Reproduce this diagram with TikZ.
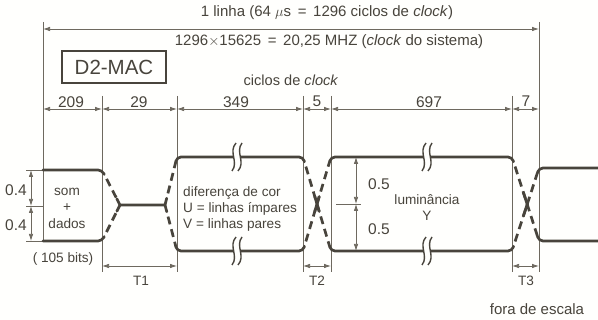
\documentclass[tikz,border=0pt]{standalone}
\usepackage{fontspec}
\setmainfont{Liberation Sans}
\usetikzlibrary{arrows.meta,calc}
\definecolor{ink}{RGB}{72,68,60}
\definecolor{thinc}{RGB}{110,105,95}
\definecolor{paper}{RGB}{255,255,253}
\begin{document}
\begin{tikzpicture}[x=1pt,y=-1pt,
  sig/.style={line width=2.7pt, draw=ink, line cap=round, line join=round},
  sigd/.style={line width=2.7pt, draw=ink, line cap=butt, dash pattern=on 8pt off 5pt, dash phase=8pt},
  thinl/.style={line width=0.75pt, draw=thinc},
  dimarr/.style={thinl, {Latex[length=7pt,width=4.5pt]}-{Latex[length=7pt,width=4.5pt]}},
  lbl/.style={font=\fontsize{13.6}{15}\selectfont, text=ink, inner sep=0pt},
  big/.style={font=\fontsize{15}{17}\selectfont, text=ink, inner sep=0pt},
  num/.style={font=\fontsize{15.5}{17}\selectfont, text=ink, inner sep=0pt},
  brk/.pic={
    \fill[paper] (-1,-14) .. controls (-9,-5) and (2,5) .. (-5,14) -- (1,14) .. controls (9,5) and (-2,-5) .. (5,-14) -- cycle;
    \draw[ink, line width=1.4pt] (-1,-14) .. controls (-9,-5) and (2,5) .. (-5,14);
    \draw[ink, line width=1.4pt] (5,-14) .. controls (-2,-5) and (9,5) .. (1,14);
  }
]
\fill[paper] (0,0) rectangle (598,320);
\useasboundingbox (0,0) rectangle (598,320);

% ---- coordinates of the signal
\coordinate (sA) at (43,170); \coordinate (sA2) at (102,170);
\coordinate (sB) at (43,241); \coordinate (sB2) at (102,241);
\coordinate (m1) at (120,205); \coordinate (m2) at (165,205);
\coordinate (cA1) at (177,157); \coordinate (cA2) at (303,157);
\coordinate (cB1) at (177,251); \coordinate (cB2) at (303,251);
\coordinate (lA1) at (331,157); \coordinate (lA2) at (512,157);
\coordinate (lB1) at (331,251); \coordinate (lB2) at (512,251);
\coordinate (rA1) at (539,168); \coordinate (rA2) at (598,168);
\coordinate (rB1) at (539,241); \coordinate (rB2) at (598,241);

% ---- thin extension lines
\coordinate (v0t) at (43,22);  \coordinate (v0b) at (43,241);
\coordinate (v1t) at (102,96); \coordinate (v1b) at (102,272);
\coordinate (v2t) at (177,96); \coordinate (v2b) at (177,272);
\coordinate (v3t) at (303,96); \coordinate (v3b) at (303,272);
\coordinate (v4t) at (331,96); \coordinate (v4b) at (331,272);
\coordinate (v5t) at (512,96); \coordinate (v5b) at (512,272);
\coordinate (v6t) at (539,22); \coordinate (v6b) at (539,272);
\foreach \i in {0,...,6} { \draw[thinl] (v\i t) -- (v\i b); }

% ---- top dimension
\coordinate (t0) at (43,29); \coordinate (t6) at (539,29);
\draw[dimarr] (t0) -- (t6);
\node[big] (title) at (327,13) {1 linha (64 $\mu$s \,=\, 1296 ciclos de \textit{clock})};
\node[big] (freq) at (329,42) {1296$\times$15625 \,=\, 20,25 MHZ (\textit{clock} do sistema)};
\node[draw=ink, line width=1.3pt, minimum width=104pt, minimum height=32pt, inner sep=0pt,
      font=\fontsize{20.5}{22}\selectfont, text=ink] (mac) at (114,67) {D2-MAC};
\node[font=\fontsize{14.6}{16}\selectfont, text=ink, inner sep=0pt] (ciclos) at (291,80) {ciclos de \textit{clock}};

% ---- cycle dimension row
\foreach \n/\x in {0/43,1/102,2/177,3/303,4/331,5/512,6/539} { \coordinate (d\n) at (\x,109); }
\draw[dimarr] (d0) -- (d1);
\draw[dimarr] (d1) -- (d2);
\draw[dimarr] (d2) -- (d3);
\draw[dimarr] (d3) -- (d4);
\draw[dimarr] (d4) -- (d5);
\draw[dimarr] (d5) -- (d6);
\node[num] (n209) at (71,102) {209};
\node[num] (n29) at (139,102) {29};
\node[num] (n349) at (236,102) {349};
\node[num] (n5) at (317,101) {5};
\node[num] (n697) at (429,102) {697};
\node[num] (n7) at (526,101) {7};

% ---- T dimensions
\coordinate (T1a) at (102,266); \coordinate (T1b) at (177,266);
\coordinate (T2a) at (303,266); \coordinate (T2b) at (331,266);
\coordinate (T3a) at (512,266); \coordinate (T3b) at (539,266);
\draw[dimarr] (T1a) -- (T1b);
\draw[dimarr] (T2a) -- (T2b);
\draw[dimarr] (T3a) -- (T3b);
\node[lbl] (lT1) at (141,281) {T1};
\node[lbl] (lT2) at (317,281) {T2};
\node[lbl] (lT3) at (526,281) {T3};
\node[lbl] (bits) at (63,259) {( 105 bits)};
\node[font=\fontsize{15}{17}\selectfont, text=ink, inner sep=0pt] (escala) at (537,309) {fora de escala};

% ---- amplitude dimensions
\coordinate (a0) at (31,170); \coordinate (a1) at (31,206); \coordinate (a2) at (31,241);
\coordinate (e0) at (26,170); \coordinate (e1) at (26,206); \coordinate (e2) at (26,241);
\coordinate (f1) at (43,206);
\draw[thinl] (e0) -- (sA);
\draw[thinl] (e1) -- (f1);
\draw[thinl] (e2) -- (sB);
\draw[dimarr] (a0) -- (a1);
\draw[dimarr] (a1) -- (a2);
\node[num] (q1) at (16,190) {0.4};
\node[num] (q2) at (16,225) {0.4};

\coordinate (b0) at (356,157); \coordinate (b1) at (356,204); \coordinate (b2) at (356,251);
\coordinate (g0) at (336,204); \coordinate (g1) at (361,204);
\draw[thinl] (g0) -- (g1);
\draw[dimarr] (b0) -- (b1);
\draw[dimarr] (b1) -- (b2);
\node[num] (p1) at (379,184) {0.5};
\node[num] (p2) at (379,229) {0.5};

% ---- signal: solid parts
\draw[sig, rounded corners=4pt] (sA) -- (sA2) -- ($(sA2)!5pt!(m1)$);
\draw[sig, rounded corners=4pt] (sB) -- (sB2) -- ($(sB2)!5pt!(m1)$);
\draw[sig] ($(m1)!7pt!(sA2)$) -- (m1) -- (m2) -- ($(m2)!7pt!(cA1)$);
\draw[sig] ($(m1)!7pt!(sB2)$) -- (m1);
\draw[sig] ($(m2)!7pt!(cB1)$) -- (m2);
\draw[sig, rounded corners=4pt] ($(cA1)!5pt!(m2)$) -- (cA1) -- (cA2) -- ($(cA2)!5pt!(lB1)$);
\draw[sig, rounded corners=4pt] ($(cB1)!5pt!(m2)$) -- (cB1) -- (cB2) -- ($(cB2)!5pt!(lA1)$);
\draw[sig, rounded corners=4pt] ($(lA1)!5pt!(cB2)$) -- (lA1) -- (lA2) -- ($(lA2)!5pt!(rB1)$);
\draw[sig, rounded corners=4pt] ($(lB1)!5pt!(cA2)$) -- (lB1) -- (lB2) -- ($(lB2)!5pt!(rA1)$);
\draw[sig, rounded corners=4pt] ($(rA1)!5pt!(lB2)$) -- (rA1) -- (rA2);
\draw[sig, rounded corners=4pt] ($(rB1)!5pt!(lA2)$) -- (rB1) -- (rB2);

% ---- signal: dashed transitions
\draw[sigd] ($(sA2)!5pt!(m1)$) -- ($(m1)!7pt!(sA2)$);
\draw[sigd] ($(sB2)!5pt!(m1)$) -- ($(m1)!7pt!(sB2)$);
\draw[sigd] ($(m2)!7pt!(cA1)$) -- ($(cA1)!5pt!(m2)$);
\draw[sigd] ($(m2)!7pt!(cB1)$) -- ($(cB1)!5pt!(m2)$);
\draw[sigd] ($(cA2)!5pt!(lB1)$) -- ($(lB1)!5pt!(cA2)$);
\draw[sigd] ($(cB2)!5pt!(lA1)$) -- ($(lA1)!5pt!(cB2)$);
\draw[sigd] ($(lA2)!5pt!(rB1)$) -- ($(rB1)!5pt!(lA2)$);
\draw[sigd] ($(lB2)!5pt!(rA1)$) -- ($(rA1)!5pt!(lB2)$);
% solid waists of the crossings
\draw[sig] ($(cA2)!0.42!(lB1)$) -- ($(cA2)!0.58!(lB1)$);
\draw[sig] ($(cB2)!0.42!(lA1)$) -- ($(cB2)!0.58!(lA1)$);
\draw[sig] ($(lA2)!0.42!(rB1)$) -- ($(lA2)!0.58!(rB1)$);
\draw[sig] ($(lB2)!0.42!(rA1)$) -- ($(lB2)!0.58!(rA1)$);

% ---- breaks
\pic at (237,157) {brk};
\pic at (237,251) {brk};
\pic at (427,157) {brk};
\pic at (427,251) {brk};

% ---- texts in the boxes
\node[lbl] (som) at (67,192) {som};
\node[lbl] (plus) at (67,208) {+};
\node[lbl] (dados) at (67,224) {dados};
\node[lbl, anchor=west] (dif) at (183,193) {diferença de cor};
\node[lbl, anchor=west] (ulin) at (183,209) {U = linhas ímpares};
\node[lbl, anchor=west] (vlin) at (183,225) {V = linhas pares};
\node[lbl] (lum) at (427,200) {luminância};
\node[lbl] (ylum) at (427,216) {Y};
\end{tikzpicture}
\end{document}
